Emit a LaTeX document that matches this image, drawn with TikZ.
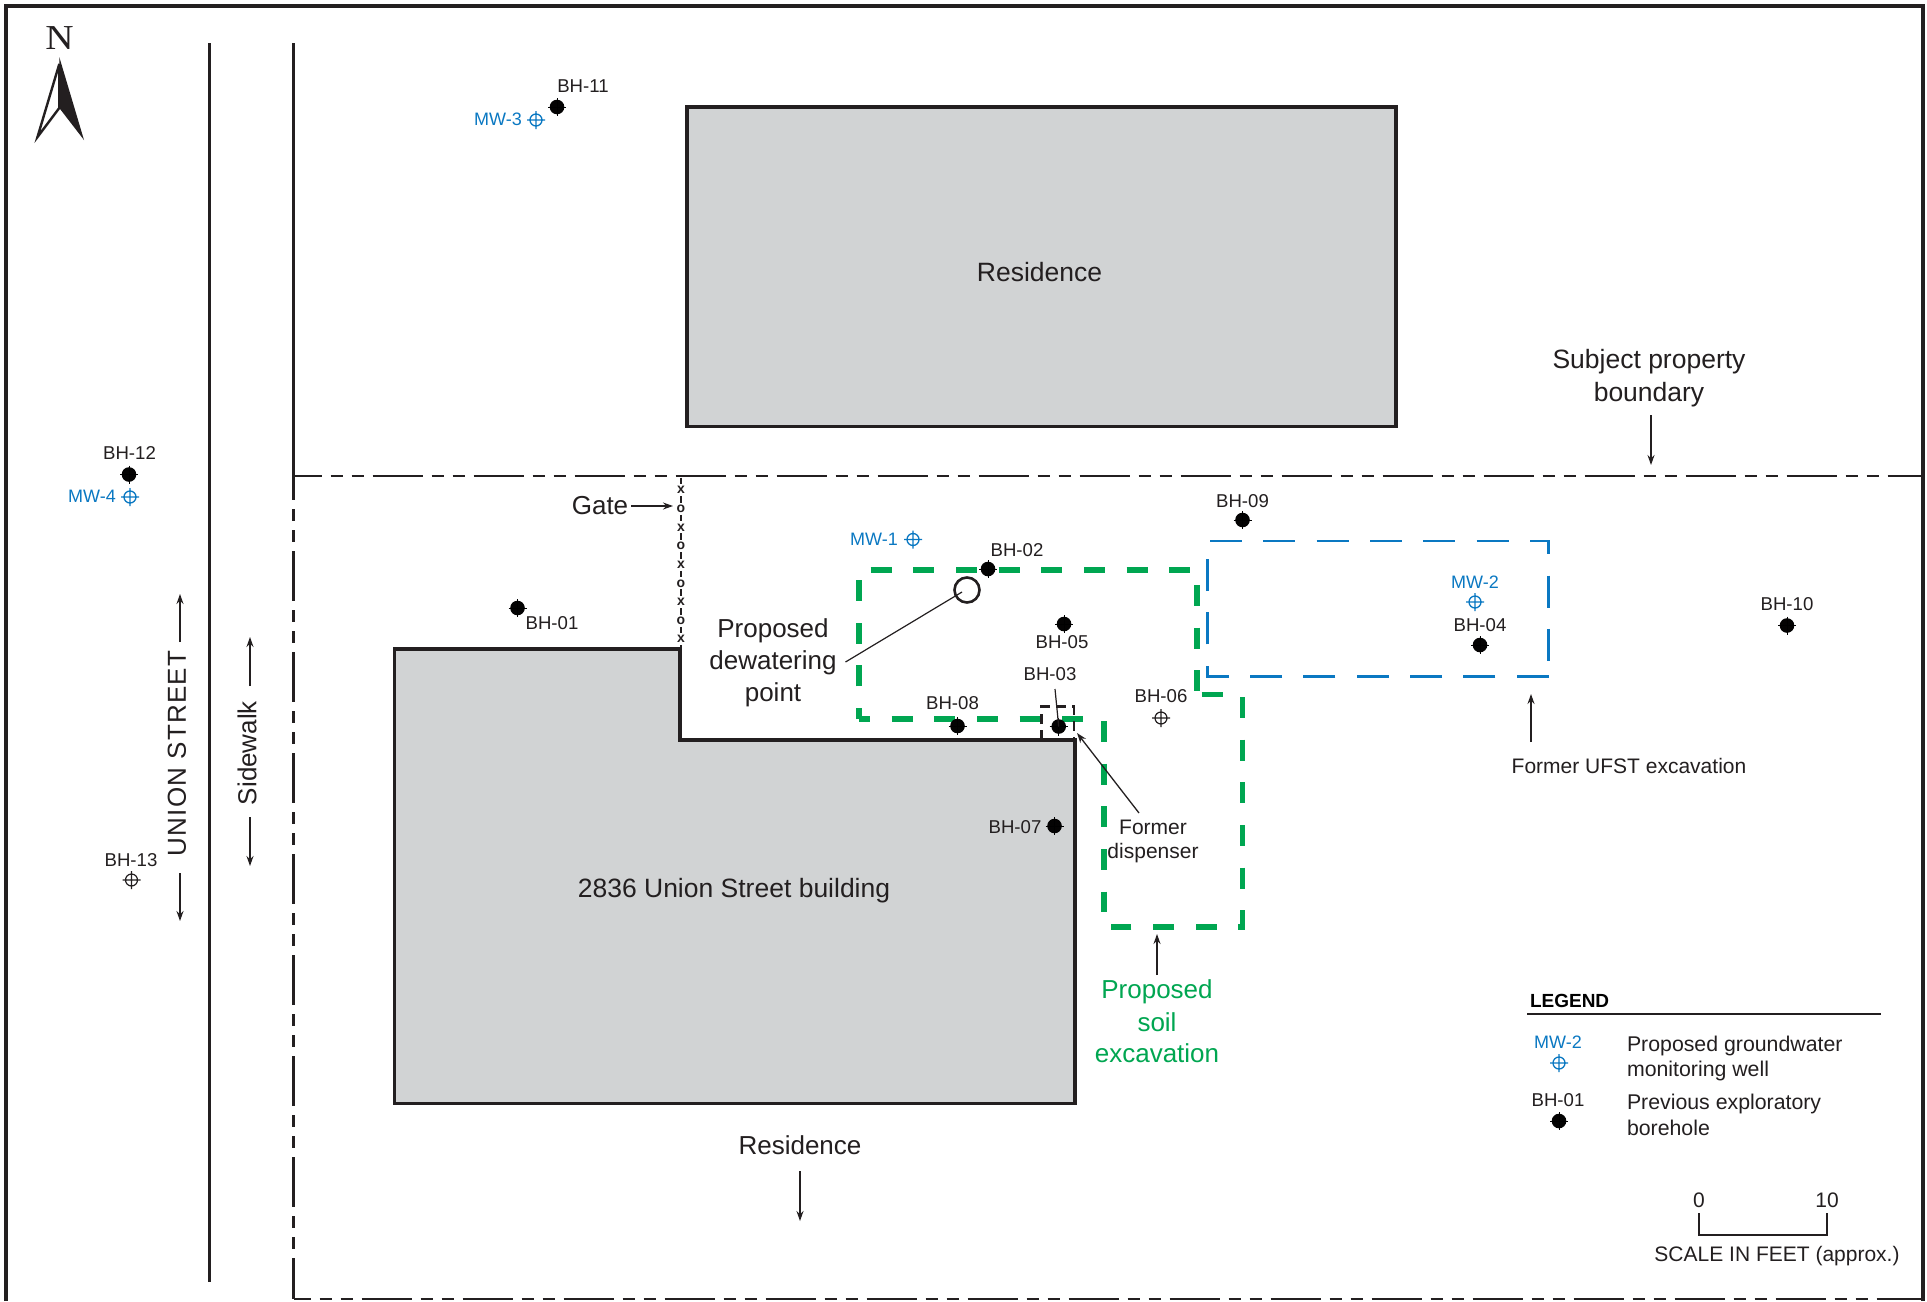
\documentclass[tikz,border=0pt]{standalone}
\usepackage{fontspec}
\setmainfont{Liberation Sans}
\newfontfamily\northfont{Liberation Serif}
\usetikzlibrary{arrows.meta}
\definecolor{ink}{HTML}{231F20}
\definecolor{bldg}{HTML}{D1D3D4}
\definecolor{greenx}{HTML}{00A651}
\definecolor{bluex}{HTML}{0A78C2}
\newcommand{\fs}[1]{\fontsize{#1}{#1}\selectfont}
\tikzset{
  x=1pt,y=-1pt,
  every node/.style={inner sep=0pt,outer sep=0pt,text=ink},
  building/.style={draw=ink,fill=bldg,line width=3.5pt,line join=miter},
  wall/.style={draw=ink,line width=3pt},
  propline/.style={draw=ink,line width=2.8pt,dash pattern=on 50pt off 9pt on 12pt off 9pt on 12pt off 9pt},
  greendash/.style={draw=greenx,line width=5.5pt,dash pattern=on 21pt off 21.67pt},
  bluedash/.style={draw=bluex,line width=2.7pt,dash pattern=on 32pt off 21.33pt},
  leader/.style={draw=ink,line width=1.2pt},
  pointer/.style={draw=ink,line width=1.3pt,-{Stealth[length=10pt,width=7pt]}},
  bhlabel/.style={font=\fs{18.6},yshift=-1pt},
  mwlabel/.style={font=\fs{18},text=bluex,yshift=-1pt},
  biglabel/.style={font=\fs{26},align=center},
  midlabel/.style={font=\fs{21},align=center},
  leglabel/.style={font=\fs{21.3},anchor=west},
  greenlabel/.style={font=\fs{26},align=center,text=greenx,text height=19pt,text depth=5pt},
  fencemark/.style={font=\bfseries\fs{14}},
  borehole/.pic={
    \fill[black!90!ink] (0,0) circle (7.3pt);
    \draw[black,line width=1pt] (-9,0)--(9,0) (0,-9)--(0,9);
  },
  openwell/.pic={
    \draw[ink,line width=1.2pt] (0,0) circle (6pt) (-9,0)--(9,0) (0,-9)--(0,9);
  },
  bluewell/.pic={
    \draw[bluex,line width=1.3pt] (0,0) circle (6pt) (-9,0)--(9,0) (0,-9)--(0,9);
  },
}
\begin{document}
\begin{tikzpicture}
\useasboundingbox (0,0) rectangle (1927,1301);
\fill[white] (0,0) rectangle (1927,1301);
% frame
\draw[ink,line width=3.5pt] (6,1301)--(6,6)--(1923,6)--(1923,1301);
% road
\draw[wall] (209,43)--(209,1282);
\draw[wall] (293.5,43)--(293.5,476);
% buildings
\node[building,minimum width=709pt,minimum height=319.5pt,anchor=north west] (res1) at (687,107) {};
\node[font=\fs{26.5}] (res1name) at (1039.5,272) {Residence};
\draw[building] (394.5,649)--(680,649)--(680,740)--(1075,740)--(1075,1103.5)--(394.5,1103.5)--cycle;
\node[font=\fs{26.5}] (bldgname) at (734,891) {2836 Union Street building};
% property boundary
\draw[propline,dash phase=22pt] (293.5,476)--(1921,476);
\draw[propline] (293.5,450)--(293.5,1299);
\draw[propline,dash phase=33pt] (293.5,1299)--(1921,1299);
% fence
\draw[ink,line width=2pt,dash pattern=on 6.5pt off 12.16pt] (681,477.5)--(681,649);
\foreach \i/\c in {0/x,1/o,2/x,3/o,4/x,5/o,6/x,7/o,8/x}{
  \node[fencemark] (fence\i) at (681,{490+18.66*\i}) {\c};
}
\node[biglabel] (gate) at (600,506) {Gate};
\coordinate (gatept) at (673,506);
\draw[pointer] (gate.east)+(3,0) -- (gatept);
% excavations
\draw[greendash,dash phase=10pt] (859,719)--(859,570)--(1197,570)--(1197,694.5);
\draw[greendash,dash phase=10pt] (859,719)--(1083,719);
\draw[greendash,dash pattern=] (1201.7,694.7)--(1222.7,694.7);
\draw[greendash,line join=miter] (1242.7,697)--(1242.7,927)--(1111,927);
\draw[greendash] (1104,721)--(1104,912);
\draw[bluedash,line join=miter] (1210,541)--(1548.7,541)--(1548.7,661);
\draw[bluedash,line join=miter] (1548.7,676.3)--(1207.3,676.3)--(1207.3,559);
% dispenser box
\draw[ink,line width=2.5pt,dash pattern=on 10pt off 6pt] (1041.7,740)--(1041.7,706.7)--(1074,706.7)--(1074,740);
% dewatering
\node[circle,draw=ink,line width=2.6pt,minimum size=25pt] (dew) at (967,590) {};
\coordinate (dewend) at (962,592);
\node[biglabel] (dewtxt) at (773,662.5) {Proposed\\[6pt]dewatering\\[6pt]point};
\coordinate (dewstart) at (845.5,662);
\draw[leader] (dewstart)--(dewend);
% boreholes
\coordinate (b1) at (517.5,608); \coordinate (b2) at (988,569);
\coordinate (b3) at (1058.7,726.5); \coordinate (b4) at (1480,645);
\coordinate (b5) at (1064,624); \coordinate (b6) at (1161,718);
\coordinate (b7) at (1054.5,826); \coordinate (b8) at (957.5,726);
\coordinate (b9) at (1242.5,520); \coordinate (b10) at (1787,625.5);
\coordinate (b11) at (557,107); \coordinate (b12) at (129,474.5);
\coordinate (b13) at (131.5,880);
\coordinate (m1) at (913,539.5); \coordinate (m2) at (1475,602);
\coordinate (m3) at (536,120); \coordinate (m4) at (130,497);
\foreach \p in {b1,b2,b3,b4,b5,b7,b8,b9,b10,b11,b12}{\pic at (\p) {borehole};}
\foreach \p in {b6,b13}{\pic at (\p) {openwell};}
\foreach \p in {m1,m2,m3,m4}{\pic at (\p) {bluewell};}
\node[bhlabel] (lb1) at (552,622) {BH-01};
\node[bhlabel] (lb2) at (1017,549) {BH-02};
\node[bhlabel] (lb3) at (1050,673.5) {BH-03};
\node[bhlabel] (lb4) at (1480,624.5) {BH-04};
\node[bhlabel] (lb5) at (1062,641.5) {BH-05};
\node[bhlabel] (lb6) at (1161,695.5) {BH-06};
\node[bhlabel] (lb7) at (1015,826) {BH-07};
\node[bhlabel] (lb8) at (952.5,702) {BH-08};
\node[bhlabel] (lb9) at (1242.5,500) {BH-09};
\node[bhlabel] (lb10) at (1787,603.5) {BH-10};
\node[bhlabel] (lb11) at (583,85.5) {BH-11};
\node[bhlabel] (lb12) at (129.5,452) {BH-12};
\node[bhlabel] (lb13) at (131,859) {BH-13};
\node[mwlabel] (lm1) at (874,538) {MW-1};
\node[mwlabel] (lm2) at (1475,581) {MW-2};
\node[mwlabel] (lm3) at (498,118) {MW-3};
\node[mwlabel] (lm4) at (92,495) {MW-4};
\coordinate (b3lead) at (1055,689);
\draw[leader] (b3lead)--(b3);
% callouts
\node[midlabel,align=center] (disp) at (1153,841.5) {Former\\[3pt]dispenser};
\coordinate (dispstart) at (1139,813);
\coordinate (dispend) at (1077,733);
\draw[pointer] (dispstart)--(dispend);
\node[biglabel,font=\fs{26.5}] (subj) at (1649,378) {Subject property\\[6pt]boundary};
\coordinate (subjs) at (1651,415); \coordinate (subje) at (1651,465);
\draw[pointer] (subjs)--(subje);
\node[midlabel] (ufst) at (1629,765.5) {Former UFST excavation};
\coordinate (ufsts) at (1531,742); \coordinate (ufste) at (1531,694);
\draw[pointer] (ufsts)--(ufste);
\node[greenlabel] (soil1) at (1157,991.5) {Proposed};
\node[greenlabel] (soil2) at (1157,1024.5) {soil};
\node[greenlabel] (soil3) at (1157,1055.5) {excavation};
\coordinate (soils) at (1157,975); \coordinate (soile) at (1157,934);
\draw[pointer] (soils)--(soile);
\node[biglabel] (res2) at (800,1145) {Residence};
\coordinate (res2s) at (800,1171); \coordinate (res2e) at (800,1221);
\draw[pointer] (res2s)--(res2e);
% street labels
\node[biglabel,rotate=90,font=\fs{26}\addfontfeature{LetterSpace=4.5}] (street) at (177,753.5) {UNION STREET};
\coordinate (st1) at (180,642); \coordinate (st2) at (180,594);
\coordinate (st3) at (180,873); \coordinate (st4) at (180,921);
\draw[pointer] (st1)--(st2);
\draw[pointer] (st3)--(st4);
\node[biglabel,rotate=90] (side) at (247,753) {Sidewalk};
\coordinate (sd1) at (250,686); \coordinate (sd2) at (250,637);
\coordinate (sd3) at (250,817); \coordinate (sd4) at (250,866);
\draw[pointer] (sd1)--(sd2);
\draw[pointer] (sd3)--(sd4);
% north arrow
\node[font={\northfont\fs{35}},xscale=1.12] (north) at (59.5,38) {N};
\fill[ink] (59.3,57)--(84,140)--(59.3,108)--cycle;
\draw[ink,line width=2.4pt,line join=miter,miter limit=6] (59.3,64)--(37.5,137)--(59.3,108)--cycle;
% legend
\node[font=\bfseries\fs{19},anchor=west,text=black] (legtitle) at (1530,1000.5) {LEGEND};
\coordinate (legl) at (1527,1014); \coordinate (legr) at (1881,1014);
\draw[ink,line width=1.4pt] (legl)--(legr);
\node[mwlabel] (legmw) at (1558,1041) {MW-2};
\coordinate (legm) at (1559,1063); \pic at (legm) {bluewell};
\node[bhlabel] (legbh) at (1558,1099) {BH-01};
\coordinate (legb) at (1559,1121); \pic at (legb) {borehole};
\node[leglabel] (leg1) at (1627,1046) {Proposed groundwater};
\node[leglabel] (leg2) at (1627,1071) {monitoring well};
\node[leglabel] (leg3) at (1627,1104) {Previous exploratory};
\node[leglabel] (leg4) at (1627,1128) {borehole};
% scale
\node[midlabel] (s0) at (1699,1200) {0};
\node[midlabel] (s10) at (1827,1200) {10};
\node[midlabel] (scaletxt) at (1777,1256) {SCALE IN FEET (approx.)};
\coordinate (sa) at (1699,1213); \coordinate (sb) at (1699,1235);
\coordinate (sc) at (1827,1235); \coordinate (sd) at (1827,1213);
\draw[ink,line width=1.3pt] (sa)--(sb)--(sc)--(sd);
\end{tikzpicture}
\end{document}
